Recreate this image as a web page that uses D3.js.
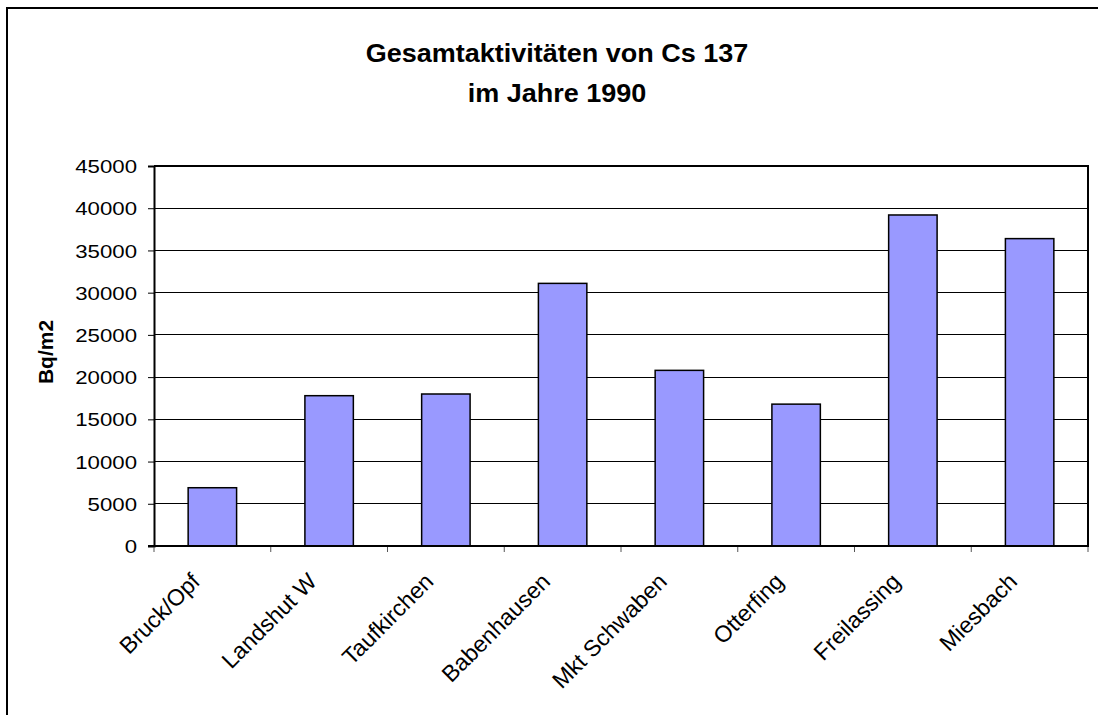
<!DOCTYPE html>
<html>
<head>
<meta charset="utf-8">
<script src="https://cdn.jsdelivr.net/npm/d3@7"></script>
<style>
  html, body { margin: 0; padding: 0; background: #fff; }
  svg { display: block; }
  text { font-family: "Liberation Sans", Arial, sans-serif; fill: #000; }
</style>
</head>
<body>
<svg id="chart" width="1098" height="715"></svg>
<script>
// Cs-137 total activity per site, 1990
const sites = ["Bruck/Opf", "Landshut W", "Taufkirchen", "Babenhausen",
               "Mkt Schwaben", "Otterfing", "Freilassing", "Miesbach"];
const activity = [6900, 17800, 18000, 31100, 20800, 16800, 39200, 36400];
const yTicks = [0, 5000, 10000, 15000, 20000, 25000, 30000, 35000, 40000, 45000];
const titleLines = ["Gesamtaktivitäten von Cs 137", "im Jahre 1990"];
const yTitle = "Bq/m2";

const svg = d3.select("#chart");
const W = 1098, H = 715;
const plot = { left: 154, right: 1088, top: 166, bottom: 546 };
const sx = 1.17; // horizontal widening of glyphs

// outer chart frame (runs past the page edge on right and bottom)
svg.append("rect")
  .attr("x", 7).attr("y", 8)
  .attr("width", W + 50).attr("height", H + 50)
  .attr("fill", "#fff").attr("stroke", "#000").attr("stroke-width", 2);

const x = d3.scaleBand().domain(sites).range([plot.left, plot.right])
  .paddingInner(0.585).paddingOuter(0.2925);
const y = d3.scaleLinear().domain([0, 45000]).range([plot.bottom, plot.top]);

// gridlines
svg.append("g")
  .selectAll("line").data(yTicks.filter(d => d > 0)).join("line")
  .attr("x1", plot.left).attr("x2", plot.right)
  .attr("y1", d => y(d)).attr("y2", d => y(d))
  .attr("stroke", "#000").attr("stroke-width", 1).attr("shape-rendering", "crispEdges");

// bars
svg.append("g")
  .selectAll("rect").data(sites).join("rect")
  .attr("x", d => x(d)).attr("width", x.bandwidth())
  .attr("y", (d, i) => y(activity[i]))
  .attr("height", (d, i) => y(0) - y(activity[i]))
  .attr("fill", "#9999ff").attr("stroke", "#000").attr("stroke-width", 1.5);

// plot border: top and right
svg.append("path")
  .attr("d", `M${plot.left},${plot.top}H${plot.right}V${plot.bottom}`)
  .attr("fill", "none").attr("stroke", "#000").attr("stroke-width", 2);

// y axis
const yAxis = svg.append("g").attr("transform", `translate(${plot.left},0)`)
  .call(d3.axisLeft(y).tickValues(yTicks).tickSize(6).tickPadding(0).tickFormat(d3.format("d")));
yAxis.select(".domain").attr("stroke", "#000").attr("stroke-width", 2);
yAxis.selectAll(".tick line").attr("stroke", "#000").attr("stroke-width", 1);
yAxis.selectAll(".tick text").remove();
yAxis.selectAll(".tick").append("text")
  .attr("transform", `translate(-17,0) scale(${sx},1)`)
  .attr("text-anchor", "end").attr("dy", "0.35em")
  .style("font-size", "19px")
  .text(d => d);

// x axis: ticks at category boundaries
const bounds = d3.range(sites.length + 1).map(i => plot.left + i * x.step());
svg.append("g").selectAll("line").data(bounds).join("line")
  .attr("x1", d => d).attr("x2", d => d)
  .attr("y1", plot.bottom).attr("y2", plot.bottom + 6)
  .attr("stroke", "#555").attr("stroke-width", 1);
svg.append("line")
  .attr("x1", plot.left - 6).attr("x2", plot.right + 1)
  .attr("y1", plot.bottom).attr("y2", plot.bottom)
  .attr("stroke", "#000").attr("stroke-width", 2);

// category labels
svg.append("g").selectAll("text").data(sites).join("text")
  .attr("transform", d => `translate(${x(d) + x.bandwidth() / 2 - 11},${plot.bottom + 37}) rotate(-45)`)
  .attr("text-anchor", "end")
  .style("font-size", "23px")
  .text(d => d);

// y axis title
svg.append("text")
  .attr("transform", `translate(53,352) rotate(-90)`)
  .attr("text-anchor", "middle")
  .style("font-size", "21px").style("font-weight", "bold")
  .text(yTitle);

// chart title
svg.append("g").selectAll("text").data(titleLines).join("text")
  .attr("transform", (d, i) => `translate(557,${62 + i * 40}) scale(1.08,1)`)
  .attr("text-anchor", "middle")
  .style("font-size", "25px").style("font-weight", "bold")
  .text(d => d);
</script>
</body>
</html>
